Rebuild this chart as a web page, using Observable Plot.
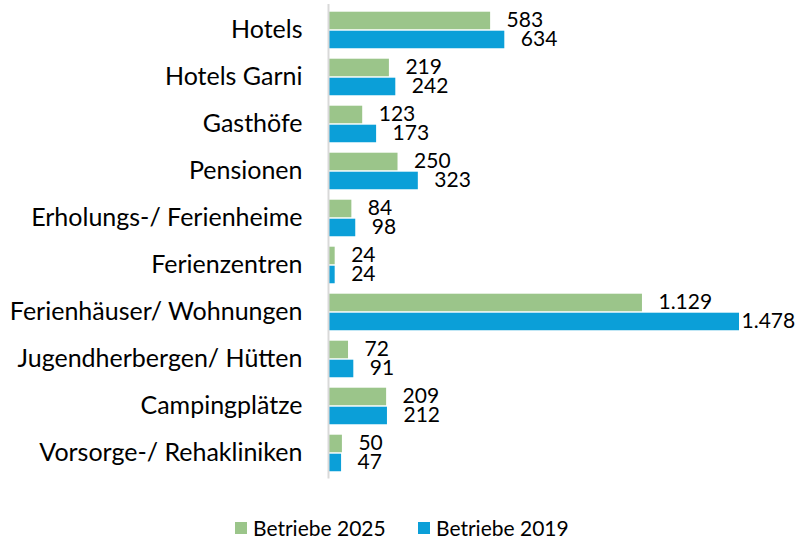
<!DOCTYPE html>
<html>
<head>
<meta charset="utf-8">
<script src="https://cdn.jsdelivr.net/npm/d3@7"></script>
<script src="https://cdn.jsdelivr.net/npm/@observablehq/plot@0.6"></script>
<style>
  html, body { margin: 0; padding: 0; background: #fff; }
  body { width: 798px; height: 541px; overflow: hidden; font-family: Lato, "Open Sans", sans-serif; }
  #legend { position: relative; height: 41px; font-size: 21px; color: #000; }
  .item { position: absolute; top: 18px; display: flex; align-items: center; line-height: 20px; }
  .sw { width: 12px; height: 12px; margin-right: 6px; }
</style>
</head>
<body>
<div id="chart"></div>
<div id="legend"></div>
<script>
const categories = ["Hotels", "Hotels Garni", "Gasthöfe", "Pensionen", "Erholungs-/ Ferienheime", "Ferienzentren", "Ferienhäuser/ Wohnungen", "Jugendherbergen/ Hütten", "Campingplätze", "Vorsorge-/ Rehakliniken"];
const betriebe2025 = [583, 219, 123, 250, 84, 24, 1129, 72, 209, 50];
const betriebe2019 = [634, 242, 173, 323, 98, 24, 1478, 91, 212, 47];
const seriesNames = ["Betriebe 2025", "Betriebe 2019"];
const seriesColors = ["#9BC58A", "#0B9FD8"];

const fmt = v => d3.format(",")(v).replace(/,/g, ".");
const rows25 = categories.map((c, i) => ({category: c, value: betriebe2025[i]}));
const rows19 = categories.map((c, i) => ({category: c, value: betriebe2019[i]}));
const maxVal = d3.max([...betriebe2025, ...betriebe2019]);

const chart = Plot.plot({
  width: 798,
  height: 500,
  marginLeft: 328,
  marginRight: 59,
  marginTop: 4,
  marginBottom: 21.5,
  style: {fontFamily: "Lato, 'Open Sans', sans-serif", fontSize: "21px", color: "#000"},
  x: {domain: [0, maxVal], axis: null},
  y: {domain: categories, padding: 0, label: null, axis: null},
  marks: [
    Plot.axisY({tickSize: 0, tickPadding: 26, fontSize: 25, label: null, fill: "#000"}),
    Plot.barX(rows25, {x: "value", y: "category", fill: seriesColors[0], insetTop: 5.7, insetBottom: 23.75}),
    Plot.barX(rows19, {x: "value", y: "category", fill: seriesColors[1], insetTop: 24.7, insetBottom: 4.75}),
    Plot.text(rows25, {x: "value", y: "category", text: d => fmt(d.value), textAnchor: "start", dx: 16, dy: -9.5, fill: "#000"}),
    Plot.text(rows19.filter(d => d.value < maxVal), {x: "value", y: "category", text: d => fmt(d.value), textAnchor: "start", dx: 16, dy: 9.5, fill: "#000"}),
    Plot.text(rows19.filter(d => d.value === maxVal), {x: "value", y: "category", text: d => fmt(d.value), textAnchor: "start", dx: 2, dy: 9.5, fill: "#000"}),
    Plot.ruleX([0], {stroke: "#d9d9d9", strokeWidth: 2})
  ]
});
document.getElementById("chart").appendChild(chart);

const legend = document.getElementById("legend");
const lefts = [235, 418];
seriesNames.forEach((name, i) => {
  const it = document.createElement("div");
  it.className = "item";
  it.style.left = lefts[i] + "px";
  it.innerHTML = `<span class="sw" style="background:${seriesColors[i]}"></span><span>${name}</span>`;
  legend.appendChild(it);
});
</script>
</body>
</html>
